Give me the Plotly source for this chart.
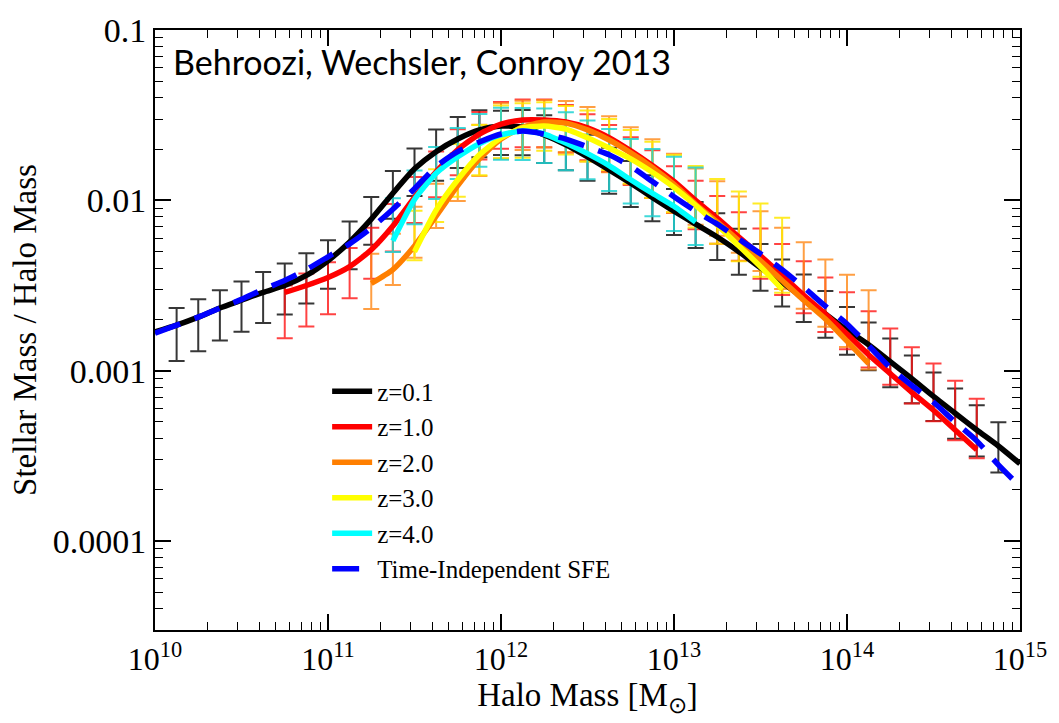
import plotly.graph_objects as go

# ---------------- data (log10 halo mass, stellar/halo mass ratio) ----------------
black_logm = [10.0, 10.125, 10.25, 10.375, 10.5, 10.625, 10.75, 10.875, 11.0, 11.125,
              11.25, 11.375, 11.5, 11.625, 11.75, 11.875, 12.0, 12.125, 12.25, 12.375,
              12.5, 12.625, 12.75, 12.875, 13.0, 13.125, 13.25, 13.375, 13.5, 13.625,
              13.75, 13.875, 14.0, 14.125, 14.25, 14.375, 14.5, 14.625, 14.75, 14.875, 15.0]
black_ratio = [1.69e-3, 1.85e-3, 2.06e-3, 2.33e-3, 2.59e-3, 2.88e-3, 3.16e-3, 3.62e-3, 4.42e-3, 5.70e-3,
               7.75e-3, 1.10e-2, 1.53e-2, 1.93e-2, 2.29e-2, 2.59e-2, 2.73e-2, 2.69e-2, 2.42e-2, 2.12e-2,
               1.80e-2, 1.51e-2, 1.26e-2, 1.04e-2, 8.63e-3, 7.25e-3, 6.09e-3, 4.99e-3, 4.02e-3, 3.29e-3,
               2.66e-3, 2.15e-3, 1.73e-3, 1.42e-3, 1.13e-3, 8.98e-4, 7.06e-4, 5.62e-4, 4.48e-4, 3.61e-4, 2.84e-4]
# error bars (dex) for black at 10.125 ... 14.875
black_err_up = [0.10, 0.105, 0.105, 0.11, 0.12, 0.13, 0.13, 0.12, 0.12, 0.13,
                0.13, 0.12, 0.13, 0.13, 0.115, 0.09, 0.10, 0.115, 0.13, 0.13,
                0.13, 0.13, 0.13, 0.13, 0.13, 0.14, 0.135, 0.14, 0.135, 0.14,
                0.135, 0.135, 0.13, 0.135, 0.135, 0.14, 0.145, 0.145, 0.14]
black_err_down = [0.21, 0.20, 0.19, 0.185, 0.18, 0.17, 0.165, 0.165, 0.16, 0.15,
                  0.15, 0.16, 0.17, 0.17, 0.16, 0.17, 0.165, 0.165, 0.15, 0.14,
                  0.14, 0.14, 0.14, 0.14, 0.14, 0.135, 0.135, 0.135, 0.14, 0.14,
                  0.14, 0.145, 0.15, 0.15, 0.145, 0.145, 0.15, 0.155, 0.155]

red_logm = [10.75, 10.875, 11.0, 11.125, 11.25, 11.375, 11.5, 11.625, 11.75, 11.875,
            12.0, 12.125, 12.25, 12.375, 12.5, 12.625, 12.75, 12.875, 13.0, 13.125,
            13.25, 13.375, 13.5, 13.625, 13.75, 13.875, 14.0, 14.125, 14.25, 14.375,
            14.5, 14.625, 14.75]
red_ratio = [2.88e-3, 3.16e-3, 3.52e-3, 4.08e-3, 5.12e-3, 7.06e-3, 1.04e-2, 1.47e-2, 1.98e-2, 2.45e-2,
             2.80e-2, 2.96e-2, 2.96e-2, 2.88e-2, 2.66e-2, 2.33e-2, 1.95e-2, 1.60e-2, 1.29e-2, 1.00e-2,
             7.86e-3, 6.09e-3, 4.72e-3, 3.62e-3, 2.77e-3, 2.15e-3, 1.64e-3, 1.24e-3, 9.61e-4, 7.45e-4,
             5.85e-4, 4.48e-4, 3.43e-4]
red_err_up = [0.04, 0.07, 0.09, 0.11, 0.13, 0.13, 0.12, 0.12, 0.12, 0.13,
              0.13, 0.12, 0.12, 0.10, 0.08, 0.075, 0.08, 0.09, 0.09, 0.115,
              0.13, 0.145, 0.16, 0.185, 0.20, 0.215, 0.245, 0.255, 0.265, 0.265,
              0.275, 0.29, 0.30]
red_err_down = [0.27, 0.24, 0.215, 0.185, 0.17, 0.15, 0.15, 0.15, 0.15, 0.15,
                0.145, 0.16, 0.16, 0.18, 0.19, 0.20, 0.20, 0.19, 0.185, 0.17,
                0.15, 0.14, 0.135, 0.115, 0.105, 0.105, 0.09, 0.075, 0.065, 0.065,
                0.065, 0.06, 0.05]

orange_logm = [11.25, 11.375, 11.5, 11.625, 11.75, 11.875, 12.0, 12.125, 12.25, 12.375,
               12.5, 12.625, 12.75, 12.875, 13.0, 13.125, 13.25, 13.375, 13.5, 13.625,
               13.75, 13.875, 14.0, 14.125]
orange_ratio = [3.25e-3, 3.92e-3, 5.40e-3, 8.07e-3, 1.22e-2, 1.75e-2, 2.29e-2, 2.69e-2, 2.88e-2, 2.84e-2,
                2.59e-2, 2.26e-2, 1.90e-2, 1.56e-2, 1.24e-2, 9.48e-3, 7.45e-3, 5.78e-3, 4.42e-3, 3.38e-3,
                2.59e-3, 2.01e-3, 1.49e-3, 1.10e-3]
orange_err_up = [0.175, 0.21, 0.23, 0.19, 0.19, 0.20, 0.21, 0.155, 0.13, 0.13,
                 0.135, 0.14, 0.15, 0.165, 0.18, 0.21, 0.24, 0.26, 0.29, 0.31,
                 0.34, 0.35, 0.39, 0.43]
orange_err_down = [0.15, 0.09, 0.07, 0.07, 0.09, 0.10, 0.115, 0.135, 0.15, 0.17,
                   0.185, 0.19, 0.185, 0.18, 0.165, 0.12, 0.08, 0.07, 0.06, 0.05,
                   0.05, 0.045, 0.035, 0.035]

yellow_logm = [11.5, 11.625, 11.75, 11.875, 12.0, 12.125, 12.25, 12.375, 12.5, 12.625,
               12.75, 12.875, 13.0, 13.125, 13.25, 13.375, 13.5, 13.625]
yellow_ratio = [4.99e-3, 8.75e-3, 1.32e-2, 1.85e-2, 2.33e-2, 2.66e-2, 2.73e-2, 2.62e-2, 2.33e-2, 2.03e-2,
                1.75e-2, 1.46e-2, 1.19e-2, 9.35e-3, 7.16e-3, 5.40e-3, 4.08e-3, 3.00e-3]
yellow_err_up = [0.24, 0.24, 0.21, 0.175, 0.19, 0.145, 0.14, 0.135, 0.16, 0.17,
                 0.17, 0.18, 0.19, 0.23, 0.27, 0.32, 0.37, 0.42]
yellow_err_down = [0.05, 0.07, 0.10, 0.12, 0.12, 0.175, 0.145, 0.15, 0.14, 0.13,
                   0.145, 0.15, 0.145, 0.13, 0.11, 0.09, 0.06, 0.02]

cyan_logm = [11.375, 11.5, 11.625, 11.75, 11.875, 12.0, 12.125, 12.25, 12.375, 12.5,
             12.625, 12.75, 12.875, 13.0, 13.125]
cyan_ratio = [5.78e-3, 1.01e-2, 1.44e-2, 1.80e-2, 2.15e-2, 2.42e-2, 2.55e-2, 2.45e-2, 2.17e-2, 1.88e-2,
              1.60e-2, 1.32e-2, 1.10e-2, 9.23e-3, 7.45e-3]
cyan_err_up = [0.25, 0.17, 0.155, 0.17, 0.175, 0.16, 0.135, 0.15, 0.18, 0.195,
               0.215, 0.24, 0.26, 0.29, 0.32]
cyan_err_down = [0.065, 0.145, 0.15, 0.13, 0.135, 0.145, 0.17, 0.17, 0.16, 0.15,
                 0.15, 0.14, 0.135, 0.145, 0.135]

sfe_logm = black_logm
sfe_ratio = [1.66e-3, 1.85e-3, 2.06e-3, 2.33e-3, 2.62e-3, 3.00e-3, 3.38e-3, 3.92e-3, 4.66e-3, 5.55e-3,
             6.87e-3, 8.87e-3, 1.17e-2, 1.58e-2, 1.93e-2, 2.20e-2, 2.45e-2, 2.55e-2, 2.45e-2, 2.29e-2,
             2.06e-2, 1.85e-2, 1.58e-2, 1.29e-2, 1.05e-2, 8.63e-3, 7.25e-3, 5.93e-3, 4.85e-3, 3.92e-3,
             3.08e-3, 2.39e-3, 1.88e-3, 1.40e-3, 1.04e-3, 8.18e-4, 6.52e-4, 4.99e-4, 3.87e-4, 2.80e-4, 2.09e-4]

series_names = ["z=0.1", "z=1.0", "z=2.0", "z=3.0", "z=4.0", "Time-Independent SFE"]
x_tick_exponents = [10, 11, 12, 13, 14, 15]
y_tick_values = [1e-4, 1e-3, 1e-2, 1e-1]
y_tick_labels = ["0.0001", "0.001", "0.01", "0.1"]

# ---------------- figure ----------------
SERIF = "Liberation Serif"
fig = go.Figure()


def err_trace(logm, ratio, up, down, color):
    xs = [10 ** m for m in logm]
    plus = [r * (10 ** u - 1) for r, u in zip(ratio, up)]
    minus = [r * (1 - 10 ** (-d)) for r, d in zip(ratio, down)]
    return go.Scatter(
        x=xs, y=ratio, mode="markers",
        marker=dict(size=1, color="rgba(0,0,0,0)"),
        error_y=dict(type="data", symmetric=False, array=plus, arrayminus=minus,
                     color=color, thickness=2, width=8),
        showlegend=False, hoverinfo="skip")


fig.add_trace(err_trace(black_logm[1:-1], black_ratio[1:-1], black_err_up, black_err_down,
                        "rgba(20,20,20,0.85)"))
fig.add_trace(err_trace(red_logm, red_ratio, red_err_up, red_err_down, "rgba(255,20,20,0.8)"))
fig.add_trace(err_trace(orange_logm, orange_ratio, orange_err_up, orange_err_down,
                        "rgba(255,135,20,0.8)"))
fig.add_trace(err_trace(yellow_logm, yellow_ratio, yellow_err_up, yellow_err_down,
                        "rgba(255,232,0,0.85)"))
fig.add_trace(err_trace(cyan_logm, cyan_ratio, cyan_err_up, cyan_err_down,
                        "rgba(30,210,210,0.85)"))

line_specs = [
    (black_logm, black_ratio, "#000000", "solid"),
    (red_logm, red_ratio, "#ff0000", "solid"),
    (orange_logm, orange_ratio, "#ff7f00", "solid"),
    (yellow_logm, yellow_ratio, "#ffff00", "solid"),
    (cyan_logm, cyan_ratio, "#00ffff", "solid"),
    (sfe_logm, sfe_ratio, "#0000ff", "27px,15px"),
]
for (logm, ratio, color, dash), name in zip(line_specs, series_names):
    fig.add_trace(go.Scatter(
        x=[10 ** m for m in logm], y=ratio, mode="lines", name=name,
        line=dict(color=color, width=5.5, dash=dash, shape="spline", smoothing=0.6),
        hoverinfo="skip"))

x_tick_vals = [10 ** e for e in x_tick_exponents]
x_tick_text = ["10<sup>%d</sup>" % e for e in x_tick_exponents]
x_minor = [d * 10 ** e for e in x_tick_exponents[:-1] for d in range(2, 10)]
y_minor = [d * 10.0 ** e for e in range(-5, -1) for d in range(2, 10)]

fig.update_layout(
    width=1059, height=723,
    margin=dict(l=155, r=33, t=22, b=93),
    paper_bgcolor="white", plot_bgcolor="white",
    font=dict(family=SERIF, color="black"),
    showlegend=True,
    legend=dict(x=0.199, y=0.436, xanchor="left", yanchor="top",
                bgcolor="rgba(0,0,0,0)", font=dict(family=SERIF, size=25, color="black"),
                itemwidth=40, tracegroupgap=0),
    xaxis=dict(
        type="log", range=[10, 15],
        tickmode="array", tickvals=x_tick_vals, ticktext=x_tick_text,
        ticks="inside", ticklen=16, tickwidth=1.5, tickcolor="black",
        minor=dict(tickmode="array", tickvals=x_minor, ticks="inside", ticklen=8,
                   tickwidth=1.2, tickcolor="black", showgrid=False),
        showline=True, linewidth=2, linecolor="black", mirror="ticks",
        showgrid=False, zeroline=False,
        tickfont=dict(family=SERIF, size=32, color="black"),
        title=dict(text="Halo Mass [M<sub>\u2299</sub>]", font=dict(family=SERIF, size=33),
                   standoff=4),
    ),
    yaxis=dict(
        type="log", range=[-4.5229, -1],
        tickmode="array", tickvals=y_tick_values, ticktext=y_tick_labels,
        ticks="inside", ticklen=16, tickwidth=1.5, tickcolor="black",
        minor=dict(tickmode="array", tickvals=y_minor, ticks="inside", ticklen=8,
                   tickwidth=1.2, tickcolor="black", showgrid=False),
        showline=True, linewidth=2, linecolor="black", mirror="ticks",
        showgrid=False, zeroline=False,
        tickfont=dict(family=SERIF, size=34, color="black"),
        title=dict(text="Stellar Mass / Halo Mass", font=dict(family=SERIF, size=33),
                   standoff=6),
    ),
    annotations=[dict(
        text="Behroozi, Wechsler, Conroy 2013", xref="paper", yref="paper",
        x=0.018, y=0.948, xanchor="left", yanchor="middle", showarrow=False,
        font=dict(family="Lato", size=34, color="black"))],
)

fig.write_html("out.html")
